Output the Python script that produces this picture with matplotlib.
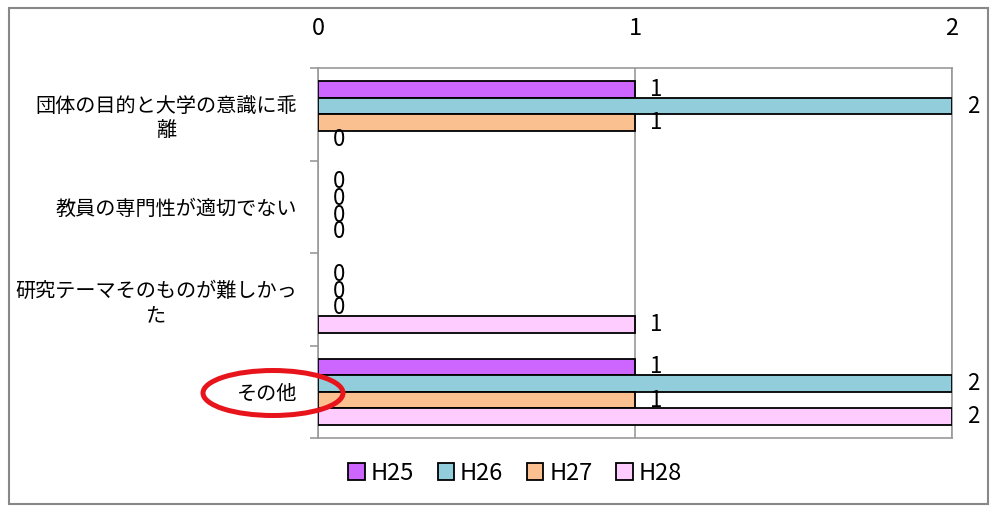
import numpy as np
import matplotlib
matplotlib.use("Agg")
from matplotlib import pyplot as plt
from matplotlib.patches import Ellipse, Rectangle

plt.rcParams['font.family'] = ['Noto Sans CJK JP', 'DejaVu Sans']

# データ
categories = ["団体の目的と大学の意識に乖\n離",
              "教員の専門性が適切でない",
              "研究テーマそのものが難しかっ\nた",
              "その他"]
years = ["H25", "H26", "H27", "H28"]
h25 = [1, 0, 0, 1]
h26 = [2, 0, 0, 2]
h27 = [1, 0, 0, 1]
h28 = [0, 0, 1, 2]
colors = ["#CC66FF", "#92CDDC", "#FAC090", "#FFCCFF"]

series = [h25, h26, h27, h28]
bar_h = 0.18
y = np.arange(len(categories))

fig = plt.figure(figsize=(10, 5.16), dpi=100)
ax = fig.add_axes([0.318, 0.151, 0.634, 0.717])

for j, (name, vals, c) in enumerate(zip(years, series, colors)):
    pos = y + (j - 1.5) * bar_h
    lws = [1.3 if v else 0 for v in vals]
    ax.barh(pos, vals, height=bar_h, color=c, edgecolor="black",
            linewidth=lws, zorder=3)
    for p, v in zip(pos, vals):
        ax.annotate(str(v), (v, p), xytext=(11, 0), textcoords="offset points",
                    ha="left", va="center", fontsize=16,
                    annotation_clip=False)

ax.set_xlim(0, 2)
ax.set_ylim(3.5, -0.5)
ax.set_xticks([0, 1, 2])
ax.xaxis.tick_top()
ax.tick_params(axis="x", length=0, pad=20, labelsize=17)
ax.grid(axis="x", color="#999999", linewidth=1.2, zorder=0)

# カテゴリ軸の目盛りは境界に
ax.set_yticks(np.arange(-0.5, 4, 1))
ax.set_yticklabels([])
ax.tick_params(axis="y", length=6, color="#999999", width=1.2)
ax.set_yticks(y, minor=True)
ax.set_yticklabels(categories, minor=True, fontsize=14.5, multialignment="center")
ax.tick_params(axis="y", which="minor", length=0, pad=15)

for s in ax.spines.values():
    s.set_color("#999999")
    s.set_linewidth(1.2)

handles = [Rectangle((0, 0), 1, 1, facecolor=c, edgecolor="black", linewidth=1.3)
           for c in colors]
ax.legend(handles, years, loc="center", bbox_to_anchor=(0.515, 0.083),
          bbox_transform=fig.transFigure, ncol=4, frameon=False,
          fontsize=17, handlelength=0.7, handleheight=0.7,
          handletextpad=0.25, columnspacing=1.0)

# その他を赤丸で囲む
ell = Ellipse((0.273, 1 - 393 / 516), 0.140, 45 / 516, transform=fig.transFigure,
              fill=False, edgecolor="#E8141C", linewidth=3.6, zorder=10)
fig.add_artist(ell)

# 外枠
fig.add_artist(Rectangle((0.009, 1 - 504 / 516), 0.979, 496 / 516,
                         transform=fig.transFigure, fill=False,
                         edgecolor="#888888", linewidth=1.5))

fig.savefig("out.png", dpi=100)
